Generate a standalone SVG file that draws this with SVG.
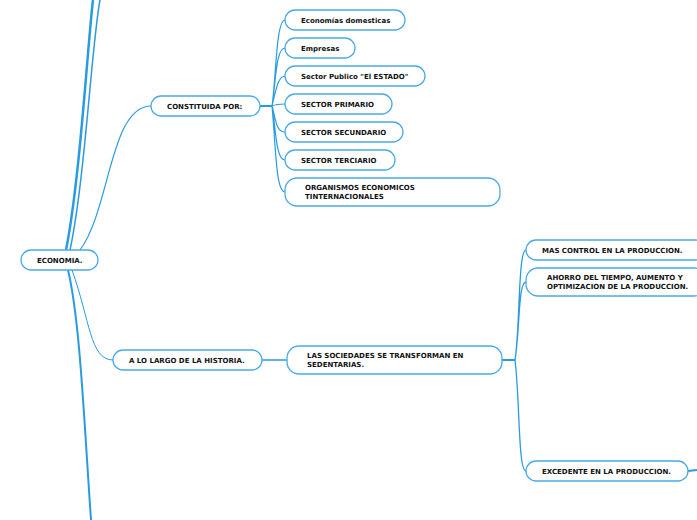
<svg xmlns="http://www.w3.org/2000/svg" width="697" height="520" viewBox="0 0 697 520">
<style>
.n rect{fill:#fff;stroke:#4aaae8;stroke-width:1.3}
text{font-family:"DejaVu Sans",Verdana,sans-serif;font-size:7px;font-weight:bold;fill:#111}
.c path{fill:none;stroke:#2a9be0}
</style>
<g class="c">
<path d="M66,250 C80,180 88,40 93,0" stroke-width="2.5"/>
<path d="M70,250 C85,180 92,40 100,0" stroke-width="1.5"/>
<path d="M80,250 C110,210 110,106 151,106" stroke-width="1.2"/>
<path d="M68,270 C80,320 84,420 91,520" stroke-width="2"/>
<path d="M72,270 C90,320 90,360 113,360" stroke-width="1"/>
<path d="M260,106 L272,106" stroke-width="2"/>
<path d="M272,106 C276,80 276,20 285,20 M272,106 C276,80 276,48 285,48 M272,106 C276,90 278,76 285,76 M272,106 C276,104 280,104 285,104 M272,106 C276,120 276,132 285,132 M272,106 C276,130 276,160 285,160 M272,106 C276,150 276,192 285,192" stroke-width="1.2"/>
<path d="M262,360 L287,360" stroke-width="1.5"/>
<path d="M502,360 L515,360" stroke-width="2"/>
<path d="M515,360 C520,330 518,250 526,250 M515,360 C520,330 518,282 526,282 M515,360 C520,400 518,471 526,471" stroke-width="1.3"/>
<path d="M688,471 L697,470" stroke-width="2"/>
</g>
<g id="economia" class="n"><rect x="21" y="250" width="77" height="20" rx="10"/><text x="37" y="263">ECONOMIA.</text></g>
<g id="constituida" class="n"><rect x="151" y="96" width="109" height="20" rx="10"/><text x="167" y="109">CONSTITUIDA POR:</text></g>
<g id="historia" class="n"><rect x="113" y="350" width="149" height="20" rx="10"/><text x="129" y="363">A LO LARGO DE LA HISTORIA.</text></g>
<g id="sociedades" class="n"><rect x="287" y="346" width="215" height="28" rx="12"/><text x="307" y="358">LAS SOCIEDADES SE TRANSFORMAN EN</text><text x="307" y="367">SEDENTARIAS.</text></g>
<g id="c1" class="n"><rect x="285" y="10" width="120" height="20" rx="10"/><text x="301" y="23">Economías domesticas</text></g>
<g id="c2" class="n"><rect x="285" y="38" width="70" height="20" rx="10"/><text x="301" y="51">Empresas</text></g>
<g id="c3" class="n"><rect x="285" y="66" width="140" height="20" rx="10"/><text x="301" y="79">Sector Publico "El ESTADO"</text></g>
<g id="c4" class="n"><rect x="285" y="94" width="107" height="20" rx="10"/><text x="301" y="107">SECTOR PRIMARIO</text></g>
<g id="c5" class="n"><rect x="285" y="122" width="118" height="20" rx="10"/><text x="301" y="135">SECTOR SECUNDARIO</text></g>
<g id="c6" class="n"><rect x="285" y="150" width="110" height="20" rx="10"/><text x="301" y="163">SECTOR TERCIARIO</text></g>
<g id="c7" class="n"><rect x="285" y="178" width="215" height="28" rx="12"/><text x="305" y="190">ORGANISMOS ECONOMICOS</text><text x="305" y="199">TINTERNACIONALES</text></g>
<g id="r1" class="n"><rect x="526" y="240" width="180" height="20" rx="10"/><text x="542" y="253">MAS CONTROL EN LA PRODUCCION.</text></g>
<g id="r2" class="n"><rect x="526" y="268" width="180" height="28" rx="12"/><text x="547" y="280">AHORRO DEL TIEMPO, AUMENTO Y</text><text x="547" y="289">OPTIMIZACION DE LA PRODUCCION.</text></g>
<g id="r3" class="n"><rect x="526" y="461" width="162" height="20" rx="10"/><text x="542" y="474">EXCEDENTE EN LA PRODUCCION.</text></g>
</svg>
